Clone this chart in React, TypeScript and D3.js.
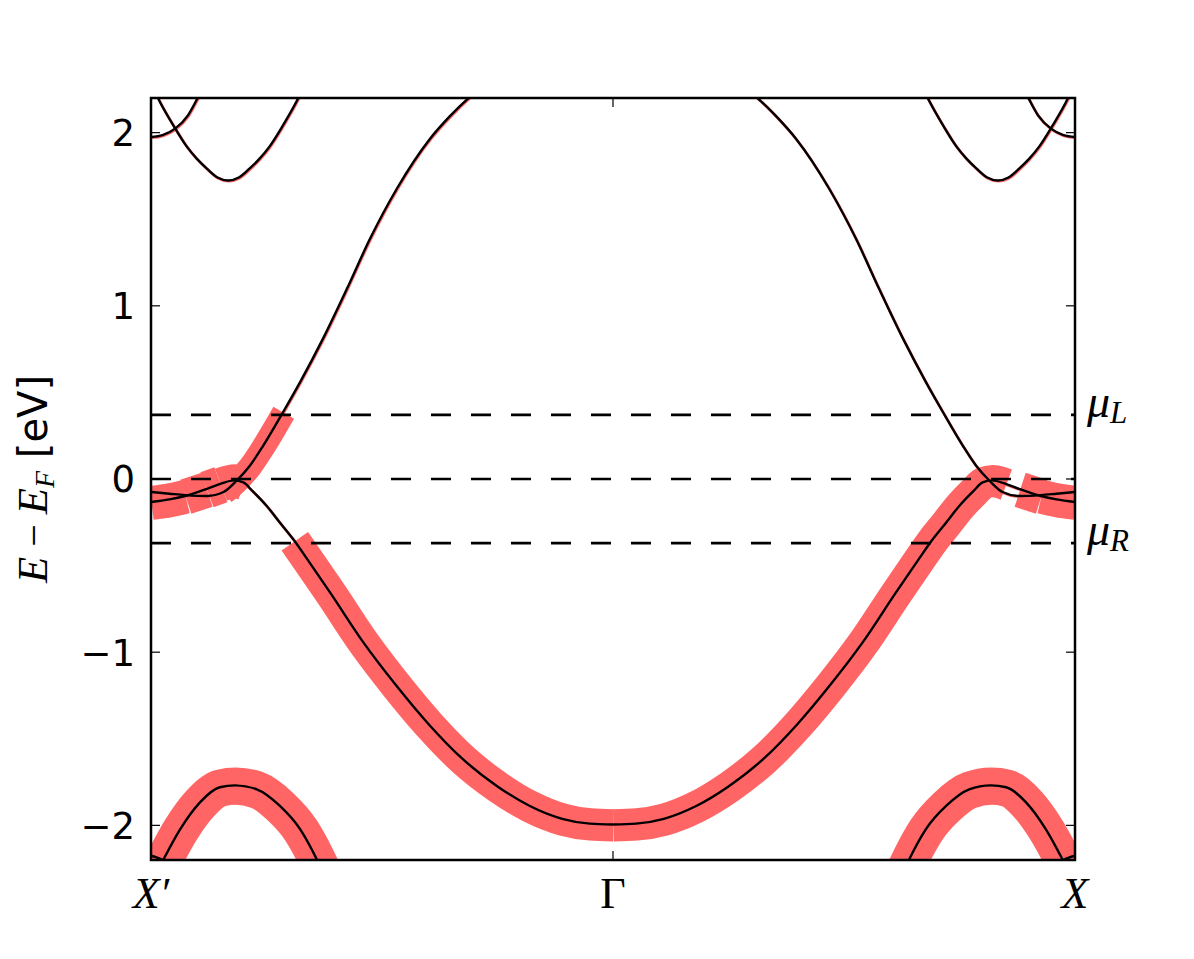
import React from 'react';
import * as d3 from 'd3';

const W = 1194;
const H = 959;
const plot = { left: 151, right: 1075, top: 98, bottom: 860 };

// The X side (k > 0) is the mirror image; only the red weights differ.
// Weights are per segment (point i -> point i+1, counted from the zone edge).
const kC1 = [-1, -0.96, -0.926, -0.879, -0.843, -0.815, -0.786, -0.757, -0.714, -0.677, -0.628, -0.576, -0.526, -0.468, -0.396, -0.353, -0.31, -0.25];
const eC1 = [-0.075, -0.085, -0.093, -0.098, -0.075, -0.01, 0.077, 0.193, 0.387, 0.561, 0.809, 1.098, 1.387, 1.676, 1.965, 2.095, 2.206, 2.33];
const wC1Left = [0.08, 0.08, 0.08, 0.08, 0.7, 0.7, 0.7, 0.7, 0.08, 0.08, 0.08, 0.08, 0.08, 0.08, 0.08, 0.08, 0.08];
const wC1Right = [0.08, 0.08, 0.08, 0.08, 0.08, 0.08, 0.08, 0.08, 0.08, 0.08, 0.08, 0.08, 0.08, 0.08, 0.08, 0.08, 0.08];

const kC2 = [-1, -0.96, -0.926, -0.88, -0.85, -0.82, -0.8, -0.78, -0.75, -0.72, -0.69, -0.66, -0.61, -0.54, -0.47, -0.4, -0.325, -0.25, -0.18, -0.11, -0.05, 0];
const eC2 = [-0.133, -0.118, -0.098, -0.058, -0.028, -0.008, -0.02, -0.07, -0.154, -0.255, -0.355, -0.47, -0.665, -0.945, -1.19, -1.413, -1.618, -1.775, -1.888, -1.962, -1.99, -1.995];
const wC2Left = [1.0, 1.0, 1.05, 1.1, 1.0, 1.0, 0.08, 0.08, 0.08, 0.08, 0.95, 0.95, 0.95, 0.95, 0.95, 0.95, 0.95, 0.95, 0.95, 0.95, 0.95];
const wC2Right = [1.0, 1.0, 1.05, 0.08, 0.95, 0.95, 0.95, 0.95, 0.95, 0.95, 0.95, 0.95, 0.95, 0.95, 0.95, 0.95, 0.95, 0.95, 0.95, 0.95, 0.95];

const kT1 = [-1.0, -0.986, -0.95, -0.922, -0.901, -0.879, -0.856, -0.833, -0.81, -0.787, -0.765, -0.744, -0.716, -0.68, -0.658];
const eT1 = [2.29, 2.206, 2.035, 1.918, 1.85, 1.792, 1.741, 1.724, 1.741, 1.792, 1.85, 1.918, 2.035, 2.206, 2.33];
const wT1 = [0.08, 0.08, 0.08, 0.08, 0.08, 0.08, 0.08, 0.08, 0.08, 0.08, 0.08, 0.08, 0.08, 0.08];

const kT2 = [-1, -0.975, -0.948, -0.92, -0.898, -0.87];
const eT2 = [1.975, 1.986, 2.023, 2.1, 2.206, 2.36];
const wT2 = [0.08, 0.08, 0.08, 0.08, 0.08];

const kB1 = [-1.0, -0.973, -0.937, -0.894, -0.851, -0.818, -0.771, -0.721, -0.677, -0.641, -0.61];
const eB1 = [-2.34, -2.197, -2.023, -1.867, -1.78, -1.769, -1.792, -1.888, -2.023, -2.197, -2.38];
const wB1 = [1.1, 1.1, 1.1, 1.1, 1.1, 1.1, 1.1, 1.1, 1.1, 1.1];

const kB2 = [-1, -0.975, -0.95, -0.92];
const eB2 = [-2.175, -2.2, -2.25, -2.33];
const wB2 = [0.9, 0.9, 0.9];

const yTicks = [-2, -1, 0, 1, 2];
const kPoints = [-1, 0, 1];
const kLabels = ['X′', 'Γ', 'X'];
const muLevels = [0.37, 0, -0.37];
const muLabels = [
  { e: 0.37, sub: 'L' },
  { e: -0.37, sub: 'R' },
];

type Pt = { k: number; e: number };
type Band = { pts: Pt[]; seg: number[] };

// left half as read; right half mirrored and reversed so k always increases
const halfPath = (k: number[], e: number[], w: number[], side: 1 | -1): Band => {
  const pts = k.map((kk, i) => ({ k: kk, e: e[i] }));
  if (side === -1) return { pts, seg: w };
  return {
    pts: pts.map(p => ({ k: -p.k, e: p.e })).reverse(),
    seg: [...w].reverse(),
  };
};

const bands: Band[] = [
  halfPath(kC1, eC1, wC1Left, -1),
  halfPath(kC1, eC1, wC1Right, 1),
  halfPath(kC2, eC2, wC2Left, -1),
  halfPath(kC2, eC2, wC2Right, 1),
  halfPath(kT1, eT1, wT1, -1),
  halfPath(kT1, eT1, wT1, 1),
  halfPath(kT2, eT2, wT2, -1),
  halfPath(kT2, eT2, wT2, 1),
  halfPath(kB1, eB1, wB1, -1),
  halfPath(kB1, eB1, wB1, 1),
  halfPath(kB2, eB2, wB2, -1),
  halfPath(kB2, eB2, wB2, 1),
];

// split a band into runs of equal segment weight (gives the blocky fat-band look)
const weightRuns = (b: Band) => {
  const runs: { w: number; pts: Pt[] }[] = [];
  for (let i = 0; i < b.pts.length - 1; i++) {
    const last = runs[runs.length - 1];
    if (last && last.w === b.seg[i]) {
      last.pts.push(b.pts[i + 1]);
    } else {
      runs.push({ w: b.seg[i], pts: [b.pts[i], b.pts[i + 1]] });
    }
  }
  return runs;
};

export default function App() {
  const x = d3.scaleLinear().domain([-1, 1]).range([plot.left, plot.right]);
  const y = d3.scaleLinear().domain([-2.2, 2.2]).range([plot.bottom, plot.top]);
  const width = d3.scaleLinear().domain([0, 1]).range([0, 34]);

  const line = d3
    .line<Pt>()
    .x(d => x(d.k))
    .y(d => y(d.e))
    .curve(d3.curveMonotoneX);

  const serif = '"Liberation Serif", "DejaVu Serif", serif';
  const sans = '"DejaVu Sans", sans-serif';

  return (
    <div style={{ position: 'absolute', left: 0, top: 0 }}>
      <svg width={W} height={H} style={{ display: 'block', background: '#fff' }}>
        <defs>
          <clipPath id="plot-clip">
            <rect x={plot.left} y={plot.top} width={plot.right - plot.left} height={plot.bottom - plot.top} />
          </clipPath>
        </defs>

        <g clipPath="url(#plot-clip)">
          {/* fat-band weights */}
          <g opacity={0.6} transform="translate(0.6, 0.8)">
            {bands.map((b, bi) =>
              weightRuns(b).map((r, ri) => (
                <path
                  key={`r-${bi}-${ri}`}
                  d={line(r.pts) || ''}
                  fill="none"
                  stroke="#ff0000"
                  strokeWidth={width(r.w)}
                  strokeLinecap="butt"
                  strokeLinejoin="round"
                />
              ))
            )}
          </g>

          {/* chemical potentials */}
          {muLevels.map(m => (
            <line
              key={`mu-${m}`}
              x1={plot.left}
              x2={plot.right}
              y1={y(m)}
              y2={y(m)}
              stroke="#000"
              strokeWidth={2.6}
              strokeDasharray="20 20"
            />
          ))}

          {/* band lines */}
          {bands.map((b, bi) => (
            <path key={`b-${bi}`} d={line(b.pts) || ''} fill="none" stroke="#000" strokeWidth={2.4} />
          ))}
        </g>

        {/* frame */}
        <rect
          x={plot.left}
          y={plot.top}
          width={plot.right - plot.left}
          height={plot.bottom - plot.top}
          fill="none"
          stroke="#000"
          strokeWidth={2.5}
        />

        {/* y ticks */}
        {yTicks.map(t => (
          <g key={`yt-${t}`}>
            <line x1={plot.left} x2={plot.left + 9} y1={y(t)} y2={y(t)} stroke="#000" strokeWidth={1.2} />
            <line x1={plot.right} x2={plot.right - 9} y1={y(t)} y2={y(t)} stroke="#000" strokeWidth={1.2} />
            <text
              x={plot.left - 16}
              y={y(t)}
              dy="0.36em"
              textAnchor="end"
              fontFamily={sans}
              fontSize={37}
              fill="#000"
            >
              {t < 0 ? `−${Math.abs(t)}` : `${t}`}
            </text>
          </g>
        ))}

        {/* k-point ticks and labels */}
        {kPoints.map((k, i) => (
          <g key={`kp-${k}`}>
            <line x1={x(k)} x2={x(k)} y1={plot.bottom} y2={plot.bottom - 9} stroke="#000" strokeWidth={1.2} />
            <line x1={x(k)} x2={x(k)} y1={plot.top} y2={plot.top + 9} stroke="#000" strokeWidth={1.2} />
            <text
              x={x(k)}
              y={908}
              textAnchor="middle"
              fontFamily={serif}
              fontStyle={kLabels[i] === 'Γ' ? 'normal' : 'italic'}
              fontSize={44}
              fill="#000"
            >
              {kLabels[i]}
            </text>
          </g>
        ))}

        {/* mu labels */}
        {muLabels.map(m => (
          <text key={`ml-${m.sub}`} x={1087} y={y(m.e) + 2} fontFamily={serif} fontStyle="italic" fontSize={46} fill="#000">
            μ
            <tspan fontSize={31} dy={6}>
              {m.sub}
            </tspan>
          </text>
        ))}

        {/* y axis label */}
        <text
          transform={`translate(47, ${(plot.top + plot.bottom) / 2}) rotate(-90)`}
          textAnchor="middle"
          fontSize={40}
          fill="#000"
        >
          <tspan fontFamily={serif} fontStyle="italic" fontSize={43}>E</tspan>
          <tspan fontFamily={serif}> − </tspan>
          <tspan fontFamily={serif} fontStyle="italic" fontSize={43}>E</tspan>
          <tspan fontFamily={serif} fontStyle="italic" fontSize={28} dy={7}>F</tspan>
          <tspan fontFamily={sans} dy={-7}> [eV]</tspan>
        </text>
      </svg>
    </div>
  );
}
